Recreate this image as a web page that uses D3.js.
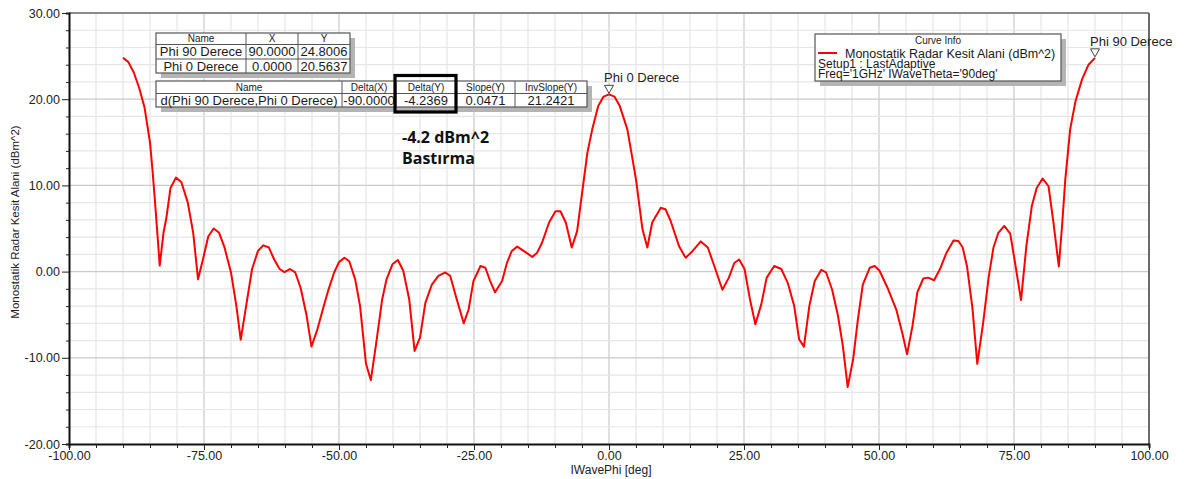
<!DOCTYPE html>
<html>
<head>
<meta charset="utf-8">
<script src="https://cdn.jsdelivr.net/npm/d3@7"></script>
<style>
  body { margin: 0; background: #fff; }
  svg { display: block; font-family: "Liberation Sans", Arial, sans-serif; }
</style>
</head>
<body>
<svg id="chart" width="1184" height="479"></svg>
<script>
// curve samples (IWavePhi in deg, RCS in dBm^2)
var phi = [-90, -89, -88, -87, -86, -85, -84.5, -84, -83.2, -82.5, -82, -81.2, -80.2, -79.2, -78, -77, -76.1,
  -75.2, -74.2, -73.2, -72.2, -71.2, -70, -69, -68.2, -67.2, -66.1, -65, -64, -63, -62, -61, -60.1, -59.1, -58.1,
  -57.1, -56, -55.1, -54, -53, -52, -50.9, -50, -49, -48.1, -47, -46.1, -45, -44.1, -43, -42, -41.2, -40.1, -39.1,
  -38.1, -37, -36, -35, -34, -32.8, -31.6, -30.3, -29.4, -28.2, -26.9, -26, -25.1, -23.8, -22.9, -22, -21.1,
  -19.8, -18.9, -18, -17, -15.8, -14.2, -13.3, -12.4, -11.1, -9.9, -9, -8, -6.9, -5.9, -5.3, -4, -3.1, -2, -1, 0,
  1, 2, 3.4, 5, 6.2, 7.1, 8, 9.6, 10.5, 11.4, 13, 14.2, 15.5, 17, 18.3, 19.5, 21, 22.2, 23.2, 24.1, 25.1, 26.1,
  27.1, 28.2, 29.2, 30.6, 31.9, 33.1, 34.3, 35.2, 36.1, 37.1, 38.1, 39.3, 40.2, 41.3, 42.4, 43.3, 44.2, 45.2,
  46.1, 47, 48.3, 49.2, 50.1, 51.7, 53.2, 54.3, 55.2, 56.2, 57.1, 58.2, 59.1, 60.2, 61.3, 62.5, 63.8, 64.7, 65.5,
  66.3, 67.3, 68.2, 69.3, 70.3, 71.2, 72.1, 73.2, 74.3, 75.2, 76.3, 77.3, 78.3, 79.2, 80.3, 81.4, 82.3, 83.3,
  83.9, 84.5, 85.4, 86.4, 87.6, 88.8, 90];
var rcs = [24.8, 24.3, 23.1, 21.3, 19.0, 15.0, 11.5, 7.5, 0.7, 4.5, 6.1, 9.7, 10.9, 10.4, 8.0, 4.5, -0.9,
  1.4, 4.1, 5.0, 4.5, 2.8, -0.1, -4.0, -7.9, -4.0, 0.3, 2.4, 3.05, 2.8, 1.4, 0.3, -0.05, 0.3, -0.1,
  -1.9, -5.1, -8.7, -6.7, -4.4, -2.2, -0.1, 1.1, 1.6, 1.2, -0.9, -4.0, -10.7, -12.6, -7.8, -3.2, -0.9, 0.85, 1.35,
  0.1, -3.2, -9.2, -7.65, -3.6, -1.5, -0.5, -0.1, -0.5, -3.2, -6.0, -4.4, -1.1, 0.65, 0.45, -1.1, -2.4,
  -1.1, 1.0, 2.4, 2.9, 2.4, 1.7, 2.2, 3.35, 5.7, 7.0, 7.0, 5.7, 2.8, 4.7, 7.6, 13.8, 16.5, 19.2, 20.3, 20.56,
  20.3, 19.2, 16.5, 10.7, 4.9, 2.8, 5.7, 7.4, 7.2, 5.9, 2.9, 1.6, 2.4, 3.5, 2.8, 0.65, -2.1, -0.7, 1.0, 1.4, 0.3, -3.2,
  -6.1, -3.8, -0.7, 0.65, 0.3, -1.3, -4.0, -7.85, -8.7, -4.0, -1.1, 0.2, -0.1, -2.05, -5.1, -8.6, -13.4, -10.2,
  -5.5, -1.5, 0.45, 0.65, 0.1, -2.05, -4.4, -7.1, -9.6, -6.3, -2.4, -0.8, -0.7, -1.0, 0.3, 2.2, 3.6, 3.55, 2.8,
  0.6, -4.2, -10.7, -5.9, -0.7, 2.8, 4.5, 5.3, 4.4, 1.0, -3.3, 3.0, 7.6, 9.7, 10.8, 9.9, 5.7, 0.6,
  5.3, 10.7, 16.5, 19.8, 22.3, 24.0, 24.8];

var xTicks = [-100, -75, -50, -25, 0, 25, 50, 75, 100];
var yTicks = [-20, -10, 0, 10, 20, 30];

var markerNames = ["Phi 90 Derece", "Phi 0 Derece"];
var markerX = [90, 0];
var markerY = [24.8006, 20.5637];

var deltaHeaders = ["Name", "Delta(X)", "Delta(Y)", "Slope(Y)", "InvSlope(Y)"];
var deltaValues = ["d(Phi 90 Derece,Phi 0 Derece)", "-90.0000", "-4.2369", "0.0471", "21.2421"];

var legendLines = ["Setup1 : LastAdaptive", "Freq='1GHz' IWaveTheta='90deg'"];

var svg = d3.select("#chart");
var x = d3.scaleLinear().domain([-100, 100]).range([69, 1149]);
var y = d3.scaleLinear().domain([-20, 30]).range([444, 13]);

// grid
var grid = svg.append("g");
grid.selectAll(".vg").data(d3.range(-95, 100, 5))
  .enter().append("line")
  .attr("x1", d => x(d)).attr("x2", d => x(d))
  .attr("y1", y(30)).attr("y2", y(-20))
  .attr("stroke", d => d % 25 === 0 ? "#cacaca" : "#e6e6e6")
  .attr("stroke-width", 1.2);
grid.selectAll(".hg").data(d3.range(-18, 30, 2))
  .enter().append("line")
  .attr("y1", d => y(d)).attr("y2", d => y(d))
  .attr("x1", x(-100)).attr("x2", x(100))
  .attr("stroke", d => d % 10 === 0 ? "#cacaca" : "#e6e6e6")
  .attr("stroke-width", 1.2);

// frame
svg.append("line").attr("x1", x(-100)).attr("x2", x(100)).attr("y1", y(30)).attr("y2", y(30))
  .attr("stroke", "#8a8a8a").attr("stroke-width", 2);
svg.append("line").attr("x1", x(100)).attr("x2", x(100)).attr("y1", y(30)).attr("y2", y(-20))
  .attr("stroke", "#6a6a6a").attr("stroke-width", 2);

// axes
var xAxis = d3.axisBottom(x).tickValues(d3.range(-100, 101, 5))
  .tickSize(4).tickFormat(d => xTicks.indexOf(d) >= 0 ? d.toFixed(2) : "");
var gx = svg.append("g").attr("transform", "translate(0," + y(-20) + ")").call(xAxis);
gx.select(".domain").attr("stroke", "#111").attr("stroke-width", 2);
gx.selectAll(".tick line").attr("stroke", "#222")
  .attr("y2", d => d % 25 === 0 ? 6 : 4);
gx.selectAll(".tick text").attr("dy", 0).attr("y", 15.5)
  .style("font-size", "12.5px").attr("fill", "#222");

var yAxis = d3.axisLeft(y).tickValues(d3.range(-20, 31, 2))
  .tickSize(3).tickFormat(d => yTicks.indexOf(d) >= 0 ? d.toFixed(2) : "");
var gy = svg.append("g").attr("transform", "translate(" + x(-100) + ",0)").call(yAxis);
gy.select(".domain").attr("stroke", "#111").attr("stroke-width", 2);
gy.selectAll(".tick line").attr("stroke", "#222")
  .attr("x2", d => d % 10 === 0 ? -7 : -3);
gy.selectAll(".tick text").attr("x", -9)
  .style("font-size", "12.5px").attr("fill", "#222");

svg.append("text").attr("x", 611).attr("y", 474).attr("text-anchor", "middle")
  .style("font-size", "12px").attr("fill", "#222").text("IWavePhi [deg]");
svg.append("text").attr("transform", "translate(19,222) rotate(-90)").attr("text-anchor", "middle")
  .style("font-size", "11.5px").attr("fill", "#222").text("Monostatik Radar Kesit Alani (dBm^2)");

// curve
var pts = phi.map((p, i) => [p, rcs[i]]);
svg.append("path").datum(pts)
  .attr("fill", "none").attr("stroke", "#ff0000").attr("stroke-width", 2)
  .attr("stroke-linejoin", "round")
  .attr("d", d3.line().x(d => x(d[0])).y(d => y(d[1])));

// markers
markerNames.forEach(function(name, i) {
  var mx = x(markerX[i]), my = y(markerY[i]);
  svg.append("path")
    .attr("d", "M" + (mx - 4.5) + "," + (my - 9) + "L" + (mx + 4.5) + "," + (my - 9) + "L" + mx + "," + (my - 1) + "Z")
    .attr("fill", "#fff").attr("stroke", "#444").attr("stroke-width", 1);
  svg.append("text").attr("x", mx - 5).attr("y", my - 12)
    .style("font-size", "13px").attr("fill", "#222").text(name);
});

// table helper
function drawTable(x0, y0, colEdges, rowEdges, rows) {
  var g = svg.append("g");
  var w = colEdges[colEdges.length - 1] - colEdges[0];
  var h = rowEdges[rowEdges.length - 1] - rowEdges[0];
  g.append("rect").attr("x", x0 + 5).attr("y", y0 + 5).attr("width", w).attr("height", h).attr("fill", "#b4b4b4");
  g.append("rect").attr("x", x0).attr("y", y0).attr("width", w).attr("height", h)
    .attr("fill", "#fff").attr("stroke", "#555").attr("stroke-width", 1.2);
  rowEdges.slice(1, -1).forEach(function(r) {
    g.append("line").attr("x1", x0).attr("x2", x0 + w).attr("y1", y0 + r).attr("y2", y0 + r)
      .attr("stroke", "#555").attr("stroke-width", 1);
  });
  colEdges.slice(1, -1).forEach(function(c) {
    g.append("line").attr("x1", x0 + c).attr("x2", x0 + c).attr("y1", y0).attr("y2", y0 + h)
      .attr("stroke", "#555").attr("stroke-width", 1);
  });
  rows.forEach(function(row, ri) {
    row.forEach(function(cell, ci) {
      g.append("text")
        .attr("x", x0 + (colEdges[ci] + colEdges[ci + 1]) / 2)
        .attr("y", y0 + (rowEdges[ri] + rowEdges[ri + 1]) / 2)
        .attr("dy", "0.36em").attr("text-anchor", "middle")
        .style("font-size", ri === 0 ? "10px" : "13px").attr("fill", "#1a1a1a")
        .text(cell);
    });
  });
}

var table1 = [["Name", "X", "Y"]].concat(markerNames.map((n, i) => [n, markerX[i].toFixed(4), markerY[i].toFixed(4)]));
drawTable(156, 33, [0, 90, 142, 194], [0, 11.5, 26, 40], table1);
drawTable(156, 81, [0, 186, 240, 300, 359, 431], [0, 12.5, 26], [deltaHeaders, deltaValues]);

// highlight box
svg.append("rect").attr("x", 395).attr("y", 75.5).attr("width", 61).attr("height", 36.5)
  .attr("fill", "none").attr("stroke", "#000").attr("stroke-width", 3.2);

svg.append("text").attr("x", 402).attr("y", 143)
  .style("font-family", "'Open Sans', sans-serif").style("font-weight", "bold").style("font-size", "16px")
  .attr("fill", "#111").text("-4.2 dBm^2");
svg.append("text").attr("x", 402).attr("y", 164)
  .style("font-family", "'Open Sans', sans-serif").style("font-weight", "bold").style("font-size", "16px")
  .attr("fill", "#111").text("Bastırma");

// curve info legend
var lg = svg.append("g");
lg.append("rect").attr("x", 820).attr("y", 39).attr("width", 246).attr("height", 47).attr("fill", "#b4b4b4");
lg.append("rect").attr("x", 815).attr("y", 34).attr("width", 246).attr("height", 47)
  .attr("fill", "#fff").attr("stroke", "#555").attr("stroke-width", 1.2);
lg.append("text").attr("x", 938).attr("y", 43.5).attr("text-anchor", "middle")
  .style("font-size", "10px").attr("fill", "#222").text("Curve Info");
lg.append("line").attr("x1", 818).attr("x2", 837).attr("y1", 53).attr("y2", 53)
  .attr("stroke", "#ff0000").attr("stroke-width", 2);
lg.append("text").attr("x", 845).attr("y", 57.5)
  .style("font-size", "12.5px").attr("fill", "#1a1a1a").text("Monostatik Radar Kesit Alani (dBm^2)");
legendLines.forEach(function(t, i) {
  lg.append("text").attr("x", 818).attr("y", 67.5 + i * 10)
    .style("font-size", "12px").attr("fill", "#1a1a1a").text(t);
});
</script>
</body>
</html>
